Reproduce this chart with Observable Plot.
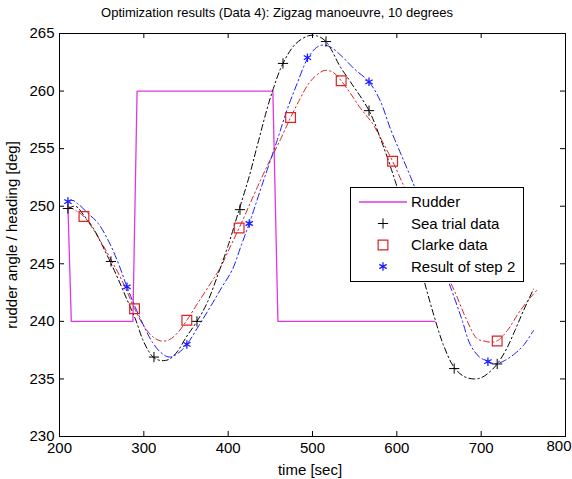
<!DOCTYPE html>
<html><head><meta charset="utf-8">
<script src="https://cdn.jsdelivr.net/npm/d3@7"></script>
<script src="https://cdn.jsdelivr.net/npm/@observablehq/plot@0.6"></script>
<style>body{margin:0;background:#fff;} #chart{width:572px;height:479px;}</style>
</head><body><div id="chart"></div>
<script>
// ---- data ----
const xTicks = [200, 300, 400, 500, 600, 700, 800];
const yTicks = [230, 235, 240, 245, 250, 255, 260, 265];

const rudderT = [210, 214, 287, 292, 453, 459, 645];
const rudderY = [250, 240, 240, 260, 260, 240, 240];

const seaT = [210,219,229,240,250,260,270,280,290,300,311,320,330,340,350,363,375,390,400,413,425,435,450,465,480,495,505,516,533,545,567,583,598,610,620,632,644,655,668,680,691,700,710,719,730,740,750,762];
const seaY = [249.8,250.0,249.2,248.1,246.7,245.2,243.6,241.9,240.2,238.2,236.9,236.6,236.7,237.4,238.6,240.0,241.6,244.5,246.6,249.7,252.6,255.4,259.4,262.4,264.1,264.8,264.8,264.3,262.1,260.8,258.3,255.4,252.2,249.3,246.8,243.6,240.5,238.0,236.0,235.2,235.0,235.1,235.6,236.3,237.6,239.2,240.9,242.8];

const clarkeT = [210,220,229,240,250,260,271,280,289,300,310,320,330,340,351,365,380,391,400,413,430,445,462,474,485,495,505,515,525,534,545,557,571,583,595,608,620,632,645,656,668,683,695,703,710,719,731,746,760,766];
const clarkeY = [250.0,249.6,249.1,248.0,246.8,245.5,244.0,242.6,241.1,239.6,238.7,238.3,238.4,239.0,240.1,241.7,243.4,244.7,246.1,248.1,250.9,253.3,255.8,257.7,259.3,260.6,261.4,261.8,261.6,260.9,259.8,258.5,257.2,255.6,253.9,251.8,250.0,248.1,246.2,244.5,242.7,240.1,238.5,238.3,238.2,238.3,239.2,240.9,242.2,242.7];

const stepT = [210,216,222,235,246,260,270,280,290,300,310,320,330,340,351,365,380,392,405,415,425,440,458,470,482,494,505,513,522,535,550,567,580,593,605,616,628,640,652,665,677,687,698,709,717,728,740,750,762];
const stepY = [250.4,250.5,250.2,249.3,248.5,246.7,245.0,243.0,241.2,239.6,238.2,237.3,236.9,237.2,238.0,239.6,241.4,242.9,244.5,246.5,248.5,251.8,255.7,258.4,260.7,262.8,263.8,264.0,263.8,263.0,261.9,260.8,259.2,256.6,254.5,252.6,250.4,247.9,245.3,242.7,240.2,238.0,236.9,236.5,236.3,236.6,237.2,237.9,239.2];

const seaMarkT = [210,261,312,363,414,465,516,567,618,668,719];
const seaMarkY = [249.8,245.2,236.9,240.0,249.7,262.4,264.3,258.3,247.3,235.9,236.3];
const clarkeMarkT = [229,289,351,413,474,534,595,657,719];
const clarkeMarkY = [249.1,241.1,240.1,248.1,257.7,260.9,253.9,244.3,238.3];
const stepMarkT = [210,280,351,425,494,567,637,708];
const stepMarkY = [250.4,243.0,238.0,248.5,262.9,260.8,248.8,236.5];

const legendLabels = ["Rudder", "Sea trial data", "Clarke data", "Result of step 2"];

// ---- build ----
const zip = (T, Y) => T.map((t, i) => ({t, v: Y[i]}));
const W = 572, H = 479, mL = 59, mR = 7, mT = 33, mB = 43;
const fh = H - mT - mB, fw = W - mL - mR;
const font = "'Liberation Sans', Arial, Helvetica, sans-serif";
const cMag = "#e038e0", cRed = "#dd2222", cBlue = "#1a1aff", cBlack = "#000";

const chart = Plot.plot({
  width: W, height: H, marginLeft: mL, marginRight: mR, marginTop: mT, marginBottom: mB,
  style: {fontFamily: font, fontSize: "15px", background: "white", color: "black"},
  x: {domain: [200, 800], label: null},
  y: {domain: [230, 265], label: null},
  marks: [
    Plot.line(zip(rudderT, rudderY), {x: "t", y: "v", stroke: cMag, strokeWidth: 1.3, clip: true}),
    Plot.line(zip(clarkeT, clarkeY), {x: "t", y: "v", stroke: cRed, strokeWidth: 1, strokeDasharray: "6,3,1.5,3", curve: "catmull-rom", clip: true}),
    Plot.line(zip(stepT, stepY), {x: "t", y: "v", stroke: cBlue, strokeWidth: 1, strokeDasharray: "7,3,1.5,3", curve: "catmull-rom", clip: true}),
    Plot.line(zip(seaT, seaY), {x: "t", y: "v", stroke: cBlack, strokeWidth: 1, strokeDasharray: "6,3,1.5,3", curve: "catmull-rom", clip: true}),
    Plot.dot(zip(seaMarkT, seaMarkY), {x: "t", y: "v", symbol: "plus", r: 3.4, stroke: cBlack, strokeWidth: 1}),
    Plot.dot(zip(clarkeMarkT, clarkeMarkY), {x: "t", y: "v", symbol: "square", r: 5.5, fill: "none", stroke: cRed, strokeWidth: 1.2}),
    Plot.dot(zip(stepMarkT, stepMarkY), {x: "t", y: "v", symbol: "asterisk", r: 4.0, stroke: cBlue, strokeWidth: 1.3}),
    Plot.frame({stroke: "black", strokeWidth: 1}),
    Plot.ruleX(xTicks, {insetTop: fh - 5, stroke: "black"}),
    Plot.ruleX(xTicks, {insetBottom: fh - 5, stroke: "black"}),
    Plot.ruleY(yTicks, {insetLeft: fw - 5, stroke: "black"}),
    Plot.ruleY(yTicks, {insetRight: fw - 5, stroke: "black"}),
    Plot.axisX(xTicks.slice(0, -1), {tickSize: 0, tickPadding: 6, fontSize: 15, label: null}),
    Plot.text(xTicks.slice(-1), {x: d => d, frameAnchor: "bottom", dy: 14, dx: 6, textAnchor: "end", fontSize: 15}),
    Plot.axisY(yTicks, {tickSize: 0, tickPadding: 5, fontSize: 15, label: null})
  ]
});
document.getElementById("chart").appendChild(chart);

const svg = d3.select(chart);
svg.append("text").attr("x", 277).attr("y", 17).attr("text-anchor", "middle")
  .attr("font-family", font).attr("font-size", 13).attr("fill", "black")
  .text("Optimization results (Data 4): Zigzag manoeuvre, 10 degrees");
svg.append("text").attr("x", 310).attr("y", 475).attr("text-anchor", "middle")
  .attr("font-family", font).attr("font-size", 15).attr("fill", "black").text("time [sec]");
svg.append("text").attr("transform", "translate(17,235) rotate(-90)").attr("text-anchor", "middle")
  .attr("font-family", font).attr("font-size", 15).attr("fill", "black").text("rudder angle / heading [deg]");

// legend
const lg = svg.append("g").attr("text-anchor", "start");
lg.append("rect").attr("x", 350.5).attr("y", 187.5).attr("width", 173).attr("height", 94)
  .attr("fill", "white").attr("stroke", "black");
const rows = [202, 223.5, 245, 266.5];
lg.append("line").attr("x1", 359).attr("x2", 407).attr("y1", rows[0]).attr("y2", rows[0]).attr("stroke", cMag).attr("stroke-width", 1.3);
lg.append("path").attr("d", d3.symbol(d3.symbolPlus, 3.4*3.4*Math.PI)()).attr("transform", `translate(383,${rows[1]})`).attr("fill", "none").attr("stroke", cBlack);
lg.append("path").attr("d", d3.symbol(d3.symbolSquare, 5.5*5.5*Math.PI)()).attr("transform", `translate(383,${rows[2]})`).attr("fill", "none").attr("stroke", cRed).attr("stroke-width", 1.2);
lg.append("path").attr("d", d3.symbol(d3.symbolAsterisk, 4*4*Math.PI)()).attr("transform", `translate(383,${rows[3]})`).attr("fill", "none").attr("stroke", cBlue).attr("stroke-width", 1.3);
legendLabels.forEach((s, i) => {
  lg.append("text").attr("x", 411).attr("y", rows[i]).attr("dy", "0.35em").attr("text-anchor", "start")
    .attr("font-family", font).attr("font-size", 15).attr("fill", "black").text(s);
});
</script></body></html>
